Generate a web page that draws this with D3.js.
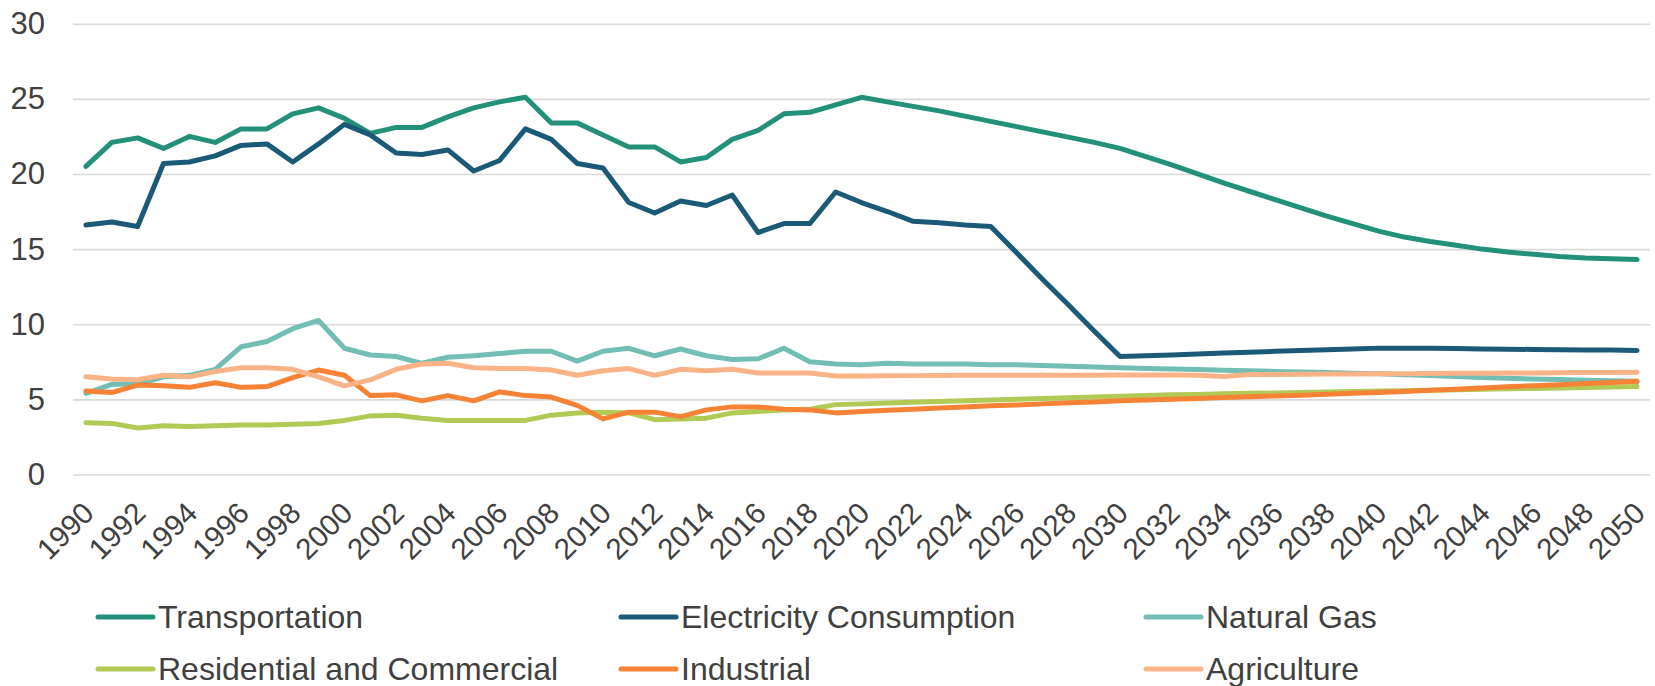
<!DOCTYPE html>
<html>
<head>
<meta charset="utf-8">
<script src="https://cdn.jsdelivr.net/npm/d3@7"></script>
<style>
  body { margin: 0; background: #fff; }
  text { font-family: "Liberation Sans", Arial, sans-serif; fill: #404040; }
</style>
</head>
<body>
<div id="chart"></div>
<script>
// Emissions by sector, 1990-2050 (history + projection).

var years = d3.range(1990, 2051);
var tickYears = years.filter(function(y){ return y % 2 == 0; });
var yTicks = [0, 5, 10, 15, 20, 25, 30];

var seriesNames = ["Transportation", "Electricity Consumption", "Natural Gas",
                   "Residential and Commercial", "Industrial", "Agriculture"];
var seriesColors = ["#23917a", "#1b5a77", "#72bdb4", "#b1ca55", "#f58235", "#f9b387"];

var transportation = [
  20.5, 22.1, 22.4, 21.7, 22.5, 22.1, 23.0, 23.0, 24.0, 24.4, 23.7, 22.7, 23.1, 23.1, 23.8, 24.4, 24.8, 25.1, 23.4,
  23.4, 22.6, 21.8, 21.8, 20.8, 21.1, 22.3, 22.9, 24.0, 24.1, 24.6,
  25.1, 24.8, 24.5, 24.2, 23.85, 23.5, 23.15, 22.8, 22.45, 22.1, 21.7, 21.15, 20.6, 20.0, 19.4, 18.85,
  18.3, 17.75, 17.2, 16.7, 16.2, 15.8, 15.5, 15.25, 15.0, 14.8, 14.65, 14.5, 14.4, 14.35, 14.3
];
var electricity = [
  16.6, 16.8, 16.5, 20.7, 20.8, 21.2, 21.9, 22.0, 20.8, 22.0, 23.3, 22.6, 21.4, 21.3, 21.6, 20.2, 20.9, 23.0, 22.3,
  20.7, 20.4, 18.1, 17.4, 18.2, 17.9, 18.6, 16.1, 16.7, 16.7, 18.8,
  18.1, 17.5, 16.85, 16.75, 16.6, 16.5, 14.76, 13.0, 11.3, 9.55, 7.85,
  7.9, 7.96, 8.02, 8.08, 8.14, 8.2, 8.26, 8.31, 8.36, 8.41, 8.41, 8.4, 8.38, 8.36, 8.34, 8.32, 8.3, 8.29, 8.28, 8.26
];
var naturalGas = [
  5.4, 6.0, 6.0, 6.5, 6.6, 7.0, 8.5, 8.85, 9.7, 10.25, 8.4, 7.95, 7.85, 7.4, 7.8, 7.9, 8.05, 8.2, 8.2,
  7.55, 8.2, 8.4, 7.9, 8.35, 7.9, 7.65, 7.7, 8.4, 7.5, 7.35,
  7.3, 7.4, 7.35, 7.35, 7.35, 7.3, 7.3, 7.25, 7.2, 7.15,
  7.1, 7.06, 7.02, 6.98, 6.94, 6.9, 6.86, 6.82, 6.78, 6.74, 6.7, 6.64, 6.58, 6.52, 6.46, 6.4, 6.36, 6.32, 6.28, 6.24, 6.2
];
var residential = [
  3.45, 3.4, 3.1, 3.25, 3.2, 3.25, 3.3, 3.3, 3.35, 3.4, 3.6, 3.9, 3.95, 3.75, 3.6, 3.6, 3.6, 3.6, 3.95,
  4.1, 4.15, 4.1, 3.65, 3.7, 3.75, 4.1, 4.2, 4.3, 4.35, 4.65,
  4.7, 4.75, 4.8, 4.85, 4.9, 4.95, 5.0, 5.05, 5.1, 5.15, 5.2, 5.25, 5.3,
  5.33, 5.37, 5.4, 5.43, 5.46, 5.49, 5.52, 5.55, 5.58, 5.61, 5.64, 5.67, 5.7, 5.73, 5.76, 5.79, 5.82, 5.85
];
var industrial = [
  5.55, 5.45, 5.95, 5.9, 5.8, 6.1, 5.8, 5.85, 6.45, 6.95, 6.6, 5.25, 5.3, 4.9, 5.25, 4.9, 5.5, 5.25, 5.15,
  4.6, 3.7, 4.15, 4.15, 3.85, 4.3, 4.5, 4.5, 4.35, 4.3, 4.1,
  4.2, 4.27, 4.35, 4.42, 4.5, 4.57, 4.63, 4.7, 4.77, 4.83, 4.9,
  4.95, 5.0, 5.06, 5.12, 5.17, 5.23, 5.28, 5.34, 5.4, 5.45,
  5.53, 5.6, 5.68, 5.76, 5.84, 5.91, 5.98, 6.06, 6.13, 6.2
];
var agriculture = [
  6.5, 6.35, 6.3, 6.6, 6.5, 6.85, 7.1, 7.1, 7.0, 6.5, 5.9, 6.3, 7.0, 7.35, 7.4, 7.1, 7.05, 7.05, 6.95,
  6.6, 6.9, 7.05, 6.6, 7.0, 6.9, 7.0, 6.75, 6.75, 6.75, 6.55,
  6.55, 6.57, 6.58, 6.59, 6.6, 6.6, 6.6, 6.6, 6.6, 6.6, 6.62, 6.62, 6.62, 6.6,
  6.52, 6.65,
  6.66, 6.67, 6.68, 6.69, 6.7, 6.71, 6.72, 6.73, 6.74, 6.75, 6.76, 6.77, 6.78, 6.79, 6.8
];

var seriesValues = [transportation, electricity, naturalGas, residential, industrial, agriculture];

var W = 1655, H = 686;
var plot = {left: 73, right: 1650, top: 23.7, bottom: 474.5};

var svg = d3.select("#chart").append("svg")
    .attr("width", W)
    .attr("height", H);

var x = d3.scalePoint()
    .domain(years)
    .range([plot.left, plot.right])
    .padding(0.5);

var y = d3.scaleLinear()
    .domain([0, 30])
    .range([plot.bottom, plot.top]);

// gridlines + y labels
var yAxis = d3.axisLeft(y)
    .tickValues(yTicks)
    .tickSize(-(plot.right - plot.left))
    .tickPadding(28);

svg.append("g")
    .attr("transform", "translate(" + plot.left + ",0)")
    .call(yAxis)
    .call(function(g){
        g.select(".domain").remove();
        g.selectAll(".tick line").attr("stroke", "#d9d9d9").attr("stroke-width", 1.6);
        g.selectAll(".tick text")
            .attr("font-size", 31)
            .attr("fill", "#404040")
            .style("font-family", "'Liberation Sans', Arial, sans-serif");
    });

// x labels, rotated
var xAxis = d3.axisBottom(x)
    .tickValues(tickYears)
    .tickSize(0);

svg.append("g")
    .attr("transform", "translate(0," + plot.bottom + ")")
    .call(xAxis)
    .call(function(g){
        g.select(".domain").remove();
        g.selectAll(".tick text")
            .attr("font-size", 29.5)
            .attr("fill", "#404040")
            .style("font-family", "'Liberation Sans', Arial, sans-serif")
            .attr("text-anchor", "end")
            .attr("y", 0)
            .attr("dy", "0.35em")
            .attr("transform", "translate(2,33) rotate(-45)");
    });

// lines
var line = d3.line()
    .x(function(d, i){ return x(years[i]); })
    .y(function(d){ return y(d); });

seriesValues.forEach(function(vals, s){
    svg.append("path")
        .datum(vals)
        .attr("fill", "none")
        .attr("stroke", seriesColors[s])
        .attr("stroke-width", 5)
        .attr("stroke-linejoin", "round")
        .attr("stroke-linecap", "round")
        .attr("d", line);
});

// legend, 3 columns x 2 rows
var legendCols = [98, 621, 1146];
var legendRows = [617, 669];

seriesNames.forEach(function(name, s){
    var lx = legendCols[s % 3];
    var ly = legendRows[Math.floor(s / 3)];
    svg.append("line")
        .attr("x1", lx).attr("x2", lx + 55)
        .attr("y1", ly).attr("y2", ly)
        .attr("stroke", seriesColors[s])
        .attr("stroke-width", 5)
        .attr("stroke-linecap", "round");
    svg.append("text")
        .attr("x", lx + 60)
        .attr("y", ly)
        .attr("dy", "0.35em")
        .attr("font-size", 32)
        .text(name);
});
</script>
</body>
</html>
